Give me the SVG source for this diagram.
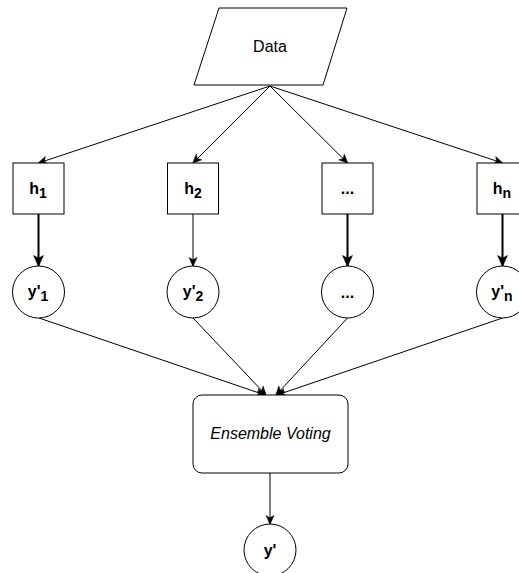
<svg xmlns="http://www.w3.org/2000/svg" width="519" height="573" viewBox="0 0 519 573">
<style>
.shape{fill:#fff;stroke:#000;stroke-width:1}
.edge{fill:none;stroke:#000;stroke-width:1}
.thick{stroke-width:2}
.lbl{font-family:"Liberation Sans",Arial,sans-serif;font-size:16px;fill:#000;text-anchor:middle}
.b{font-weight:bold}
.it{font-style:italic}
</style>
<defs>
<marker id="arr" markerUnits="userSpaceOnUse" markerWidth="10" markerHeight="10" viewBox="0 0 10 10" refX="9" refY="5" orient="auto">
<path d="M0.5,1 L9.5,5 L0.5,9 L2.8,5 z" fill="#000" stroke="#000" stroke-width="0.5"/>
</marker>
<marker id="arrT" markerUnits="userSpaceOnUse" markerWidth="12" markerHeight="12" viewBox="0 0 12 12" refX="11" refY="6" orient="auto">
<path d="M0.5,1 L11.5,6 L0.5,11 L3,6 z" fill="#000" stroke="#000" stroke-width="0.5"/>
</marker>
</defs>
<rect width="519" height="573" fill="#fff"/>
<g id="connectors">
<line class="edge" x1="270" y1="86" x2="38.5" y2="163" marker-end="url(#arr)"/>
<line class="edge" x1="270" y1="86" x2="193" y2="163" marker-end="url(#arr)"/>
<line class="edge" x1="270" y1="86" x2="347.5" y2="163" marker-end="url(#arr)"/>
<line class="edge" x1="270" y1="86" x2="502.5" y2="163" marker-end="url(#arr)"/>
<line class="edge thick" x1="38.5" y1="214" x2="38.5" y2="266" marker-end="url(#arrT)"/>
<line class="edge" x1="193" y1="214" x2="193" y2="266" marker-end="url(#arr)"/>
<line class="edge thick" x1="347.5" y1="214" x2="347.5" y2="266" marker-end="url(#arrT)"/>
<line class="edge thick" x1="502.5" y1="214" x2="502.5" y2="266" marker-end="url(#arrT)"/>
<line class="edge" x1="39" y1="318" x2="265" y2="395" marker-end="url(#arr)"/>
<line class="edge" x1="193" y1="318" x2="266" y2="395" marker-end="url(#arr)"/>
<line class="edge" x1="347.5" y1="318" x2="276" y2="395" marker-end="url(#arr)"/>
<line class="edge" x1="502.5" y1="318" x2="277" y2="395" marker-end="url(#arr)"/>
<line class="edge" x1="270" y1="473" x2="270" y2="524" marker-end="url(#arr)"/>
</g>
<g id="data">
<polygon class="shape" points="219,8 347,8 323,85 194,85"/>
<text class="lbl" x="270" y="52">Data</text>
</g>
<g id="h1">
<rect class="shape" x="13" y="163" width="51" height="51"/>
<text class="lbl b" x="38" y="194">h<tspan font-size="14" dy="4">1</tspan></text>
</g>
<g id="h2">
<rect class="shape" x="167.5" y="163" width="51" height="51"/>
<text class="lbl b" x="193" y="194">h<tspan font-size="14" dy="4">2</tspan></text>
</g>
<g id="hdots">
<rect class="shape" x="322" y="163" width="51" height="51"/>
<text class="lbl b" x="347.5" y="194">...</text>
</g>
<g id="hn">
<rect class="shape" x="477" y="163" width="51" height="51"/>
<text class="lbl b" x="502" y="194">h<tspan font-size="14" dy="4">n</tspan></text>
</g>
<g id="y1">
<circle class="shape" cx="38.5" cy="292" r="26"/>
<text class="lbl b" x="38" y="297">y'<tspan font-size="14" dy="4">1</tspan></text>
</g>
<g id="y2">
<circle class="shape" cx="193" cy="292" r="26"/>
<text class="lbl b" x="193" y="297">y'<tspan font-size="14" dy="4">2</tspan></text>
</g>
<g id="ydots">
<circle class="shape" cx="347.5" cy="292" r="26"/>
<text class="lbl b" x="347.5" y="298">...</text>
</g>
<g id="yn">
<circle class="shape" cx="502.5" cy="292" r="26"/>
<text class="lbl b" x="502" y="297">y'<tspan font-size="14" dy="4">n</tspan></text>
</g>
<g id="ensemble">
<rect class="shape" x="193" y="395" width="155" height="78" rx="9" ry="9"/>
<text class="lbl it" x="270.5" y="439">Ensemble Voting</text>
</g>
<g id="yout">
<circle class="shape" cx="270" cy="550" r="26"/>
<text class="lbl b" x="270" y="556">y'</text>
</g>
</svg>
